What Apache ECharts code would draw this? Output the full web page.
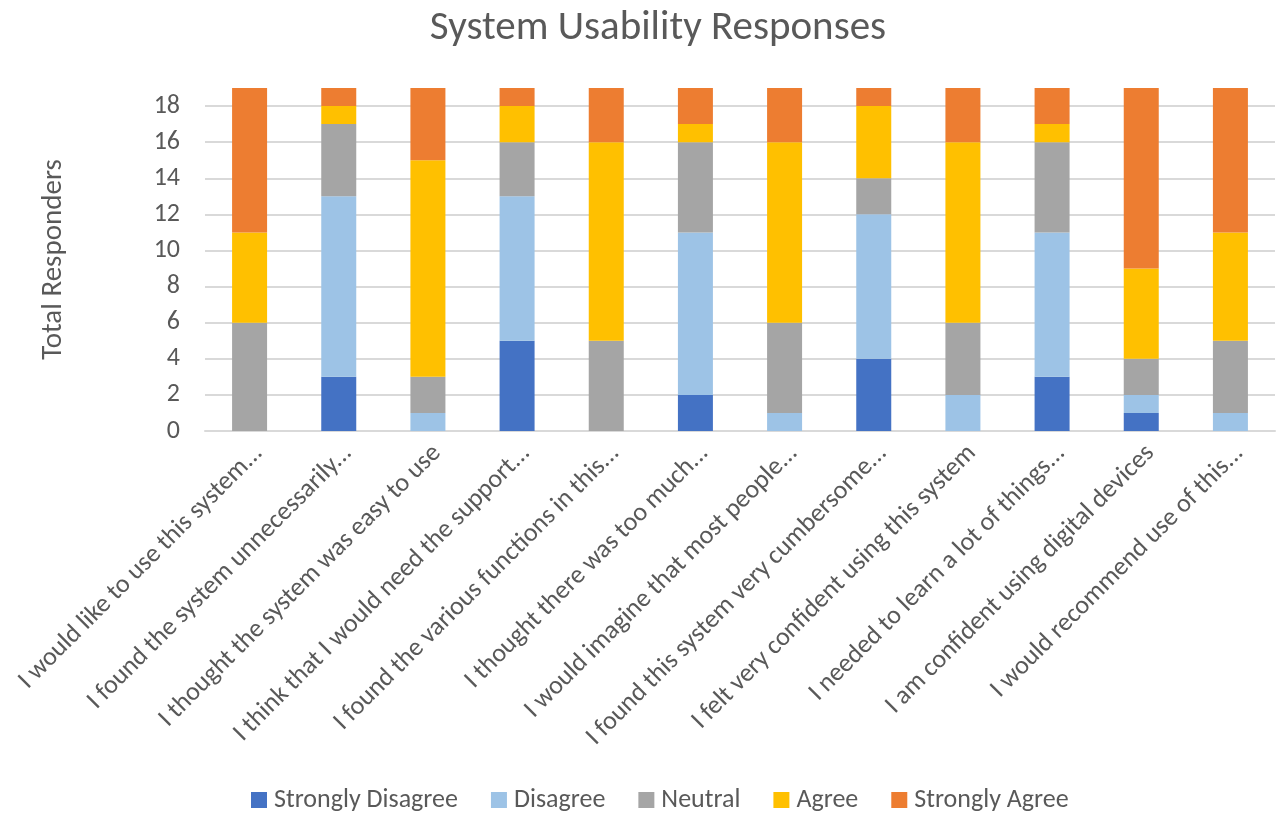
<!DOCTYPE html>
<html>
<head>
<meta charset="utf-8">
<title>System Usability Responses</title>
<script src="https://cdn.jsdelivr.net/npm/echarts@6/dist/echarts.min.js"></script>
<style>
  html, body { margin: 0; padding: 0; background: #fff; }
  #chart { width: 1279px; height: 814px; }
</style>
</head>
<body>
<div id="chart"></div>
<script>
var questions = [
  'I would like to use this system...',
  'I found the system unnecessarily...',
  'I thought the system was easy to use',
  'I think that I would need the support...',
  'I found the various functions in this...',
  'I thought there was too much...',
  'I would imagine that most people...',
  'I found this system very cumbersome...',
  'I felt very confident using this system',
  'I needed to learn a lot of things...',
  'I am confident using digital devices',
  'I would recommend use of this...'
];
var strongDisagree = [0, 3, 0, 5, 0, 2, 0, 4, 0, 3, 1, 0];
var disagree       = [0, 10, 1, 8, 0, 9, 1, 8, 2, 8, 1, 1];
var neutral        = [6, 4, 2, 3, 5, 5, 5, 2, 4, 5, 2, 4];
var agree          = [5, 1, 12, 2, 11, 1, 10, 4, 10, 1, 5, 6];
var strongAgree    = [8, 1, 4, 1, 3, 2, 3, 1, 3, 2, 10, 8];

var seriesNames = ['Strongly Disagree', 'Disagree', 'Neutral', 'Agree', 'Strongly Agree'];
var seriesColors = ['#4472C4', '#9DC3E6', '#A5A5A5', '#FFC000', '#ED7D31'];
var seriesData = [strongDisagree, disagree, neutral, agree, strongAgree];

var font = 'Carlito, Calibri, Lato, sans-serif';
var textColor = '#595959';
var gridColor = '#D9D9D9';

// the 19 line at the top is not drawn in the original, only 0..18
var splitColors = [];
for (var i = 0; i < 10; i++) splitColors.push(gridColor);
splitColors.push('rgba(0,0,0,0)');

var series = [];
for (var i = 0; i < seriesNames.length; i++) {
  series.push({
    name: seriesNames[i],
    type: 'bar',
    stack: 'total',
    barWidth: 35,
    itemStyle: { color: seriesColors[i] },
    data: seriesData[i]
  });
}

var myChart = echarts.init(document.getElementById('chart'));
myChart.setOption({
  animation: false,
  textStyle: { fontFamily: font },
  title: {
    text: 'System Usability Responses',
    left: 653,
    textAlign: 'center',
    top: 3,
    textStyle: { fontFamily: font, fontSize: 41, fontWeight: 'normal', color: textColor }
  },
  legend: {
    data: seriesNames,
    left: 246,
    bottom: -4,
    itemWidth: 16,
    itemHeight: 16,
    itemGap: 33,
    icon: 'rect',
    textStyle: { fontFamily: font, fontSize: 26, color: textColor, padding: [0, 0, 0, 2] }
  },
  grid: {
    left: 205,
    right: 4,
    top: 88,
    bottom: 383,
    containLabel: false
  },
  xAxis: {
    type: 'category',
    data: questions,
    axisLine: { lineStyle: { color: gridColor, width: 2 } },
    axisTick: { show: false },
    axisLabel: {
      interval: 0,
      rotate: 45,
      margin: 9,
      verticalAlign: 'top',
      fontFamily: font,
      fontSize: 26,
      color: textColor
    }
  },
  yAxis: {
    type: 'value',
    min: 0,
    max: 19,
    interval: 2,
    name: 'Total Responders',
    nameLocation: 'middle',
    nameGap: 137,
    nameTextStyle: { fontFamily: font, fontSize: 29, color: textColor },
    axisLine: { show: false },
    axisTick: { show: false },
    axisLabel: {
      margin: 25,
      showMaxLabel: false,
      fontFamily: font,
      fontSize: 26,
      color: textColor
    },
    splitLine: { lineStyle: { color: splitColors, width: 2 } }
  },
  series: series
});
</script>
</body>
</html>
